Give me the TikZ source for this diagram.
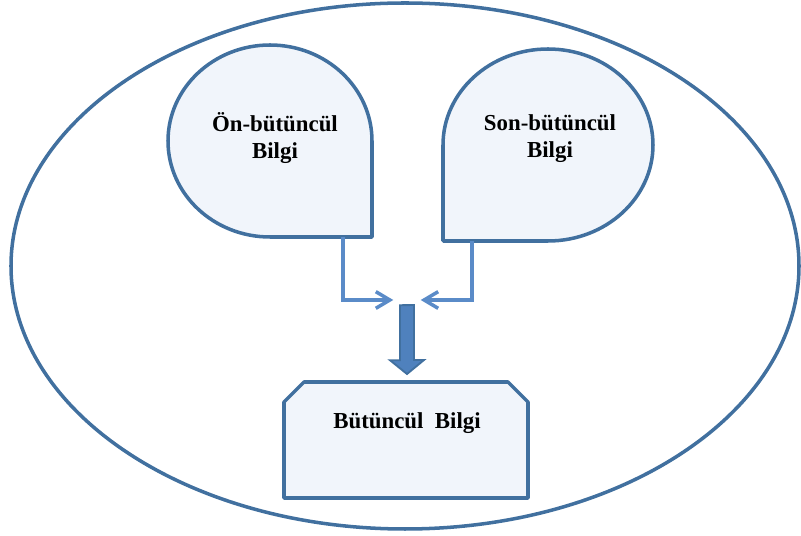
\documentclass[tikz,border=0pt]{standalone}
\usepackage{fontspec}
\setmainfont{Liberation Serif}
\usepackage{tikz}
\usetikzlibrary{arrows.meta}
\usetikzlibrary{calc}
\usetikzlibrary{positioning}

\definecolor{outline}{HTML}{41709F}
\definecolor{paleblue}{HTML}{F1F5FB}
\definecolor{linkblue}{HTML}{5A8BC8}
\definecolor{blockblue}{HTML}{4F81BD}

\tikzset{
	shapeline/.style={draw=outline, line width=3pt, fill=paleblue, line join=round},
	label text/.style={font=\fontsize{19.5}{23}\selectfont\bfseries, align=center, inner sep=0pt},
	link/.style={draw=linkblue, line width=3pt, -{Straight Barb[length=0.42cm,width=0.5cm]}},
	bigarrow/.style={draw=outline, line width=1.6pt, fill=blockblue, line join=miter}
}

\begin{document}
\begin{tikzpicture}[x=0.03cm, y=0.03cm]
	\useasboundingbox (0,0) rectangle (801,536);
	\draw[draw=outline, line width=3pt] (405,270) ellipse [x radius=394, y radius=263];

	\draw[shapeline] (372,299) -- (372,395) arc[start angle=0, end angle=270, x radius=102, y radius=96] -- cycle;
	\draw[shapeline] (443,295) -- (548,295) arc[start angle=270, end angle=540, x radius=105, y radius=96] -- cycle;
	\draw[shapeline] (284,38) -- (284,134) -- (304,154) -- (508,154) -- (528,134) -- (528,38) -- cycle;

	\node[label text] (onbilgi) at (275,398) {Ön-bütüncül\\Bilgi};
	\node[label text] (sonbilgi) at (550,397) {Son-bütüncül\\Bilgi};
	\node[label text] (butunbilgi) at (407,113) {Bütüncül~ Bilgi};

	\coordinate (onout) at (343,299);
	\coordinate (sonout) at (472,295);
	\coordinate (boxtop) at (407,154);
	\node[inner sep=0pt, minimum width=0.81cm, minimum height=0.3cm] (merge) at (407,236) {};

	\draw[link] (onout) |- (merge.west);
	\draw[link] (sonout) |- (merge.east);
	\draw[bigarrow] ($(merge.south)+(-7,0)$) -- ++(0,-55) -- ++(-10,0) -- ($(boxtop)+(0,8)$)
		-- ++(17,14) -- ++(-10,0) -- ++(0,55) -- cycle;
\end{tikzpicture}
\end{document}
